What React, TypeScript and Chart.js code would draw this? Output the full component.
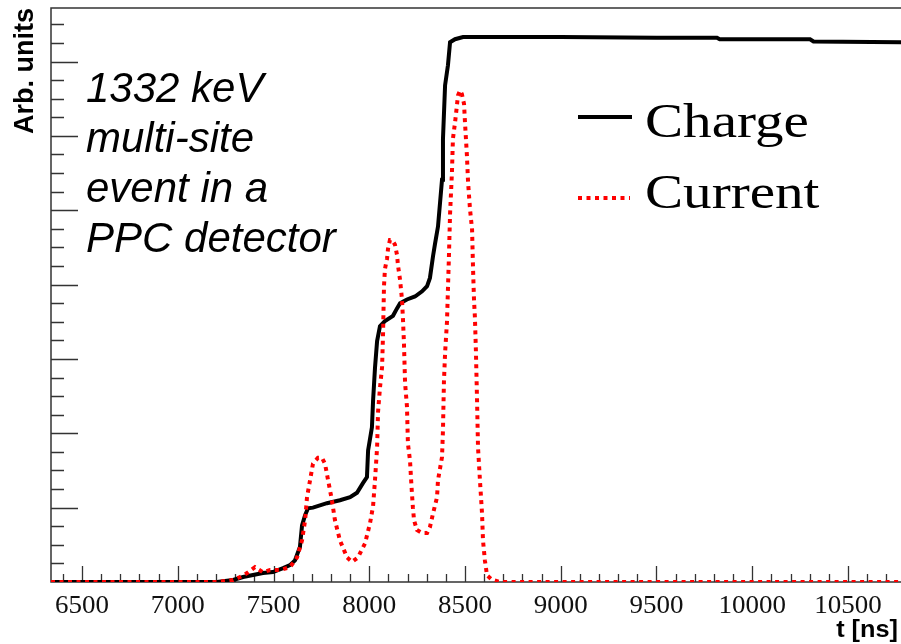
import React, { useEffect, useRef } from "react";
import { Chart, registerables } from "chart.js";

Chart.register(...registerables);

// ---- data ----
const T_MIN = 6338;
const T_MAX = 10777;
const Y_MAX = 7.72;

const X_TICKS = [6500, 7000, 7500, 8000, 8500, 9000, 9500, 10000, 10500];

const CHARGE_T = [
  6338, 7116, 7205, 7289, 7341, 7393, 7445, 7497, 7550, 7586, 7612, 7638, 7649, 7665, 7680,
  7706, 7779, 7847, 7900, 7936, 7967, 7988, 7994, 8014, 8020, 8030, 8041, 8056, 8082, 8124,
  8145, 8161, 8197, 8239, 8276, 8302, 8317, 8333, 8343, 8359, 8370, 8380, 8385, 8396, 8411,
  8422, 8448, 8490, 9000, 9500, 9816, 9830, 10302, 10320, 10777,
];
const CHARGE_V = [
  0, 0, 0, 0.027, 0.067, 0.094, 0.12, 0.134, 0.187, 0.227, 0.29, 0.47, 0.76, 0.9, 0.99,
  1.0, 1.06, 1.1, 1.14, 1.2, 1.33, 1.41, 1.77, 2.08, 2.44, 2.88, 3.24, 3.44, 3.51, 3.58,
  3.68, 3.75, 3.8, 3.84, 3.91, 3.98, 4.09, 4.38, 4.54, 4.78, 5.11, 5.41, 5.96, 6.68, 6.95,
  7.26, 7.3, 7.33, 7.33, 7.32, 7.32, 7.3, 7.3, 7.27, 7.26,
];

const CURRENT_T = [
  6338, 7116, 7205, 7289, 7325, 7362, 7403, 7445, 7482, 7534, 7586, 7623, 7649, 7665, 7675,
  7691, 7706, 7732, 7753, 7769, 7785, 7805, 7821, 7847, 7884, 7910, 7941, 7978, 8004, 8020,
  8030, 8041, 8046, 8056, 8067, 8072, 8077, 8082, 8093, 8098, 8108, 8119, 8134, 8145, 8150,
  8161, 8171, 8176, 8181, 8187, 8197, 8202, 8213, 8218, 8223, 8228, 8234, 8249, 8276, 8302,
  8317, 8333, 8354, 8359, 8380, 8385, 8390, 8396, 8406, 8411, 8416, 8422, 8432, 8437, 8448,
  8458, 8463, 8474, 8484, 8495, 8500, 8505, 8510, 8516, 8526, 8537, 8542, 8547, 8552, 8557,
  8563, 8568, 8578, 8589, 8594, 8604, 8615, 8641, 8683, 10777,
];
const CURRENT_V = [
  0, 0, 0, 0.027, 0.067, 0.12, 0.2, 0.13, 0.16, 0.16, 0.2, 0.33, 0.56, 0.83, 1.14,
  1.37, 1.59, 1.67, 1.67, 1.59, 1.37, 1.1, 0.83, 0.56, 0.33, 0.27, 0.33, 0.52, 0.79, 1.02,
  1.37, 1.81, 2.29, 2.61, 2.89, 3.33, 3.98, 4.21, 4.35, 4.48, 4.6, 4.6, 4.54, 4.4, 4.26,
  4.06, 3.8, 3.54, 3.23, 2.68, 2.36, 1.86, 1.63, 1.4, 1.19, 1.0, 0.83, 0.7, 0.66, 0.66,
  0.74, 0.92, 1.14, 1.37, 1.68, 2.04, 2.69, 3.08, 3.5, 3.94, 4.37, 4.95, 5.52, 5.96, 6.18,
  6.41, 6.54, 6.61, 6.56, 6.43, 6.18, 5.96, 5.74, 5.38, 5.02, 4.74, 4.22, 3.8, 3.55, 3.11,
  2.44, 1.81, 1.37, 0.92, 0.56, 0.29, 0.09, 0.03, 0, 0,
];

const ANNOTATION = ["1332 keV", "multi-site", "event in a", "PPC detector"];

const CHARGE_COLOR = "#000000";
const CURRENT_COLOR = "#ff0000";
const CURRENT_DASH = [4, 4.5];

const framePlugin = {
  id: "rootFrame",
  beforeDatasetsDraw(chart: any) {
    const ctx = chart.ctx as CanvasRenderingContext2D;
    const { left, right, top, bottom } = chart.chartArea;
    const xs = chart.scales.x;
    const ys = chart.scales.y;
    ctx.save();
    ctx.strokeStyle = "#333";
    ctx.lineWidth = 1.5;
    ctx.beginPath();
    ctx.moveTo(right, top);
    ctx.lineTo(left, top);
    ctx.lineTo(left, bottom);
    ctx.lineTo(right, bottom);
    ctx.stroke();
    // x ticks (inward)
    ctx.lineWidth = 1.3;
    ctx.beginPath();
    for (let t = 6400; t <= T_MAX; t += 100) {
      const x = Math.round(xs.getPixelForValue(t)) + 0.5;
      const major = t % 500 === 0;
      ctx.moveTo(x, bottom);
      ctx.lineTo(x, bottom - (major ? 16 : 8));
    }
    // y ticks (inward)
    for (let i = 1; i * 0.25 <= Y_MAX; i++) {
      const v = i * 0.25;
      const y = Math.round(ys.getPixelForValue(v)) + 0.5;
      const major = i % 4 === 0;
      ctx.moveTo(left, y);
      ctx.lineTo(left + (major ? 27 : 13), y);
    }
    ctx.stroke();
    ctx.restore();
  },
  afterDraw(chart: any) {
    const ctx = chart.ctx as CanvasRenderingContext2D;
    const xs = chart.scales.x;
    ctx.save();
    ctx.fillStyle = "#111";
    // x tick labels
    ctx.font = '25px "Liberation Serif"';
    ctx.textAlign = "center";
    ctx.textBaseline = "alphabetic";
    for (const t of X_TICKS) {
      const x = xs.getPixelForValue(t);
      ctx.save();
      ctx.translate(x, 613);
      ctx.scale(1.08, 1);
      ctx.fillText(String(t), 0, 0);
      ctx.restore();
    }
    // x title
    ctx.fillStyle = "#000";
    ctx.font = 'bold 23px "Liberation Sans"';
    ctx.textAlign = "right";
    ctx.save();
    ctx.translate(898, 637);
    ctx.scale(1.1, 1);
    ctx.fillText("t [ns]", 0, 0);
    ctx.restore();
    // y title
    ctx.save();
    ctx.translate(33, 8);
    ctx.rotate(-Math.PI / 2);
    ctx.font = 'bold 27px "Liberation Sans"';
    ctx.textAlign = "right";
    ctx.fillText("Arb. units", 0, 0);
    ctx.restore();
    // annotation
    ctx.font = 'italic 42px "Liberation Sans"';
    ctx.textAlign = "left";
    ANNOTATION.forEach((line, i) => {
      ctx.fillText(line, 86, 102 + i * 50);
    });
    // legend
    const items = chart.data.datasets
      .slice()
      .sort((a: any, b: any) => (a.legendRank ?? 0) - (b.legendRank ?? 0));
    items.forEach((ds: any, i: number) => {
      const cy = i === 0 ? 117 : 198;
      const baseline = i === 0 ? 137 : 208;
      ctx.save();
      ctx.strokeStyle = ds.borderColor;
      ctx.lineWidth = ds.borderWidth;
      ctx.setLineDash(ds.borderDash || []);
      ctx.beginPath();
      ctx.moveTo(578, cy);
      ctx.lineTo(i === 0 ? 632 : 630, cy);
      ctx.stroke();
      ctx.restore();
      ctx.save();
      ctx.font = '48px "Liberation Serif"';
      ctx.fillStyle = "#000";
      ctx.translate(645, baseline);
      ctx.scale(1.19, 1);
      ctx.fillText(ds.label, 0, 0);
      ctx.restore();
    });
    ctx.restore();
  },
};

export default function App() {
  const ref = useRef<HTMLCanvasElement | null>(null);
  useEffect(() => {
    document.body.style.margin = "0";
    const canvas = ref.current!;
    const chart = new Chart(canvas, {
      type: "line",
      data: {
        datasets: [
          {
            label: "Charge",
            data: CHARGE_T.map((t, i) => ({ x: t, y: CHARGE_V[i] })),
            borderColor: CHARGE_COLOR,
            borderWidth: 4,
            pointRadius: 0,
            tension: 0,
            fill: false,
            order: 2,
            legendRank: 0,
          } as any,
          {
            label: "Current",
            data: CURRENT_T.map((t, i) => ({ x: t, y: CURRENT_V[i] })),
            borderColor: CURRENT_COLOR,
            borderWidth: 4,
            borderDash: CURRENT_DASH,
            borderCapStyle: "butt",
            pointRadius: 0,
            tension: 0,
            fill: false,
            order: 1,
            legendRank: 1,
          } as any,
        ],
      },
      options: {
        animation: false,
        responsive: false,
        devicePixelRatio: 1,
        layout: { padding: { left: 51, top: 8, right: 0, bottom: 62 } },
        scales: {
          x: { type: "linear", min: T_MIN, max: T_MAX, display: false },
          y: { type: "linear", min: 0, max: Y_MAX, display: false },
        },
        plugins: {
          legend: { display: false },
          tooltip: { enabled: false },
        },
      },
      plugins: [framePlugin],
    });
    return () => chart.destroy();
  }, []);
  return (
    <div style={{ width: 901, height: 644, background: "#fff" }}>
      <canvas ref={ref} width={901} height={644} style={{ display: "block" }} />
    </div>
  );
}
